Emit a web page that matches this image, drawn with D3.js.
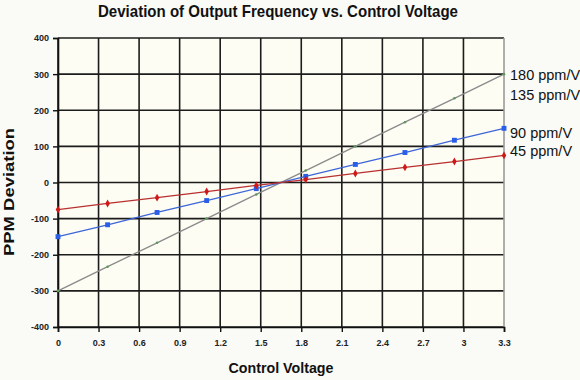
<!DOCTYPE html>
<html><head><meta charset="utf-8">
<script src="https://cdn.jsdelivr.net/npm/d3@7"></script>
<style>
html,body{margin:0;padding:0;background:#fafaf6;}
svg{display:block;}
text{font-family:"Liberation Sans",Arial,sans-serif;}
</style></head>
<body>
<script>
// ---- data ----
const voltages = [0, 0.367, 0.733, 1.1, 1.467, 1.833, 2.2, 2.567, 2.933, 3.3];
const ppm180 = [-300, -233, -167, -100, -33, 33, 100, 167, 233, 300];
const ppm90  = [-150, -117, -83, -50, -17, 17, 50, 83, 117, 150];
const ppm45  = [-75, -58, -42, -25, -8, 8, 25, 42, 58, 75];
const xTicks = [0, 0.3, 0.6, 0.9, 1.2, 1.5, 1.8, 2.1, 2.4, 2.7, 3, 3.3];
const yTicks = [-400, -300, -200, -100, 0, 100, 200, 300, 400];
const seriesLabels = ["180 ppm/V", "135 ppm/V", "90 ppm/V", "45 ppm/V"];
const labelValues = [297, 242, 137, 87];

const W = 580, H = 380;
const svg = d3.select("body").append("svg").attr("width", W).attr("height", H);
const x = d3.scaleLinear().domain([0, 3.3]).range([58, 504]);
const y = d3.scaleLinear().domain([-400, 400]).range([327, 38]);

// plot background
svg.append("rect").attr("x", x(0)).attr("y", y(400))
  .attr("width", x(3.3) - x(0)).attr("height", y(-400) - y(400))
  .attr("fill", "#fdfdf3");

// grid
svg.append("g").selectAll("line").data(yTicks).join("line")
  .attr("x1", x(0)).attr("x2", x(3.3))
  .attr("y1", d => y(d)).attr("y2", d => y(d))
  .attr("stroke", "#1c1c1c").attr("stroke-width", 1.6);
svg.append("g").selectAll("line").data(xTicks).join("line")
  .attr("x1", d => x(d)).attr("x2", d => x(d))
  .attr("y1", y(400)).attr("y2", y(-400))
  .attr("stroke", d => d === 3.3 ? "#9a9a9a" : "#1c1c1c").attr("stroke-width", 1.6);

// axes
const yAxis = d3.axisLeft(y).tickValues(yTicks).tickSize(5).tickPadding(4)
  .tickFormat(d => d3.format("d")(d).replace("−", "-"));
const gy = svg.append("g").attr("transform", `translate(${x(0)},0)`).call(yAxis);
const xAxis = d3.axisBottom(x).tickValues(xTicks).tickSize(5).tickPadding(8)
  .tickFormat(d => String(d));
const gx = svg.append("g").attr("transform", `translate(0,${y(-400)})`).call(xAxis);
[gx, gy].forEach(g => {
  g.select(".domain").attr("stroke", "#111").attr("stroke-width", 1.6);
  g.selectAll(".tick line").attr("stroke", "#111").attr("stroke-width", 1.4);
  g.selectAll(".tick text").attr("fill", "#222").attr("font-size", 9)
    .attr("font-weight", "bold").attr("font-family", "'Liberation Sans',Arial,sans-serif");
});

// lines
const series = [
  {vals: ppm180, color: "#8a8a8a", mcolor: "#5a9a5a", shape: "dot"},
  {vals: ppm90, color: "#3d66d8", mcolor: "#2a5ee8", shape: "square"},
  {vals: ppm45, color: "#b83030", mcolor: "#d01818", shape: "diamond"}
];
const line = d3.line().x((d, i) => x(voltages[i])).y(d => y(d));
series.forEach(s => {
  svg.append("path").datum(s.vals).attr("d", line)
    .attr("fill", "none").attr("stroke", s.color).attr("stroke-width", 1.3);
  const sym = s.shape === "square" ? d3.symbolSquare : s.shape === "diamond" ? d3.symbolDiamond : d3.symbolCircle;
  const size = s.shape === "square" ? 24 : s.shape === "diamond" ? 18 : 5;
  svg.append("g").selectAll("path").data(s.vals).join("path")
    .attr("transform", (d, i) => `translate(${x(voltages[i])},${y(d)})`)
    .attr("d", d3.symbol().type(sym).size(size))
    .attr("fill", s.mcolor);
});

// series labels
svg.append("g").selectAll("text").data(seriesLabels).join("text")
  .attr("x", x(3.3) + 6).attr("y", (d, i) => y(labelValues[i]) + 5)
  .attr("font-size", 14.5).attr("fill", "#111").text(d => d);

// title and axis titles
svg.append("text").attr("x", 278).attr("y", 17).attr("text-anchor", "middle")
  .attr("font-size", 17).attr("font-weight", "bold").attr("fill", "#111")
  .attr("textLength", 360).attr("lengthAdjust", "spacingAndGlyphs")
  .text("Deviation of Output Frequency vs. Control Voltage");
svg.append("text").attr("x", 281).attr("y", 373).attr("text-anchor", "middle")
  .attr("font-size", 15.5).attr("font-weight", "bold").attr("fill", "#111")
  .attr("textLength", 105).attr("lengthAdjust", "spacingAndGlyphs")
  .text("Control Voltage");
svg.append("text").attr("transform", "translate(14,192) rotate(-90)")
  .attr("text-anchor", "middle").attr("font-size", 15).attr("font-weight", "bold").attr("fill", "#111")
  .attr("textLength", 128).attr("lengthAdjust", "spacingAndGlyphs")
  .text("PPM Deviation");
</script>
</body></html>
